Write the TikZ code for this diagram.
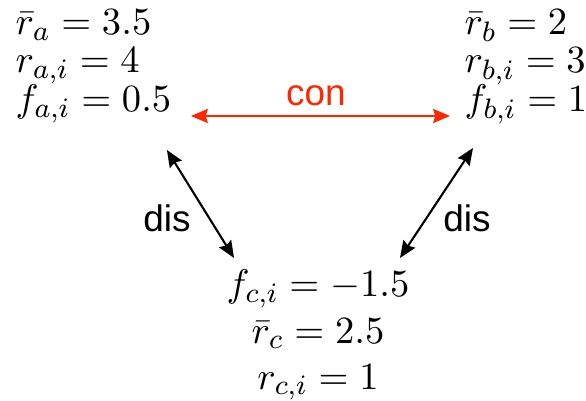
\documentclass[tikz,border=0pt]{standalone}
\usepackage{amsmath,amssymb}
\usepackage{fontspec}
\usepackage{tikz}
\usepackage{xcolor}
\usetikzlibrary{arrows.meta,positioning,calc}
\newfontfamily\labelfont{Liberation Sans}
\definecolor{ConRed}{HTML}{FF2600}
\definecolor{DisBlack}{HTML}{000000}
\tikzset{
    % Value line style
    valnode/.style={
        inner sep=0pt,
        font=\fontsize{10.8}{13}\selectfont
    },
    % Label style
    relnode/.style={
        inner sep=0pt,
        font=\labelfont\fontsize{10.5}{12}\selectfont
    },
    % Red arrow (con)
    conarrow/.style={
        {Stealth[length=4.8pt,width=4pt,inset=0.6pt]}-{Stealth[length=4.8pt,width=4pt,inset=0.6pt]},
        line width=0.6pt,
        draw=ConRed
    },
    % Black arrow (dis)
    disarrow/.style={
        {Stealth[length=4.8pt,width=4pt,inset=0.6pt]}-{Stealth[length=4.8pt,width=4pt,inset=0.6pt]},
        line width=0.6pt,
        draw=DisBlack
    }
}
\begin{document}
\begin{tikzpicture}[x=0.01cm,y=-0.01cm]
        \useasboundingbox (0,0) rectangle (586,401);

        % Agent a
        \node[valnode,anchor=base west] (ra) at (15,35) {$\bar{r}_a = 3.5$};
        \node[valnode,anchor=base west] (ria) at (15,73) {$r_{a,i} = 4$};
        \node[valnode,anchor=base west] (fa) at (15,112) {$f_{a,i} = 0.5$};

        % Agent b
        \node[valnode,anchor=base west] (rb) at (464,35) {$\bar{r}_b = 2$};
        \node[valnode,anchor=base west] (rib) at (464,73) {$r_{b,i} = 3$};
        \node[valnode,anchor=base west] (fb) at (464,112) {$f_{b,i} = 1$};

        % Agent c
        \node[valnode,anchor=base] (fc) at (318,297) {$f_{c,i} = -1.5$};
        \node[valnode,anchor=base] (rc) at (318,343) {$\bar{r}_c = 2.5$};
        \node[valnode,anchor=base] (ric) at (318,389) {$r_{c,i} = 1$};

        % Arrows
        \draw[conarrow] ($(fa.base east)+(19,4)$) -- ($(fb.base west)+(-14,4)$);
        \draw[disarrow] ($(fa.base east)+(-5,38)$) -- ($(fc.base west)+(8,-39)$);
        \draw[disarrow] ($(fb.base west)+(9,36)$) -- ($(fc.base east)+(-10,-39)$);

        % Labels
        \node[relnode,anchor=base,text=ConRed] (con) at (316,106) {con};
        \node[relnode,anchor=base] (disa) at (167,232) {dis};
        \node[relnode,anchor=base] (disb) at (467,232) {dis};
    \end{tikzpicture}
\end{document}
